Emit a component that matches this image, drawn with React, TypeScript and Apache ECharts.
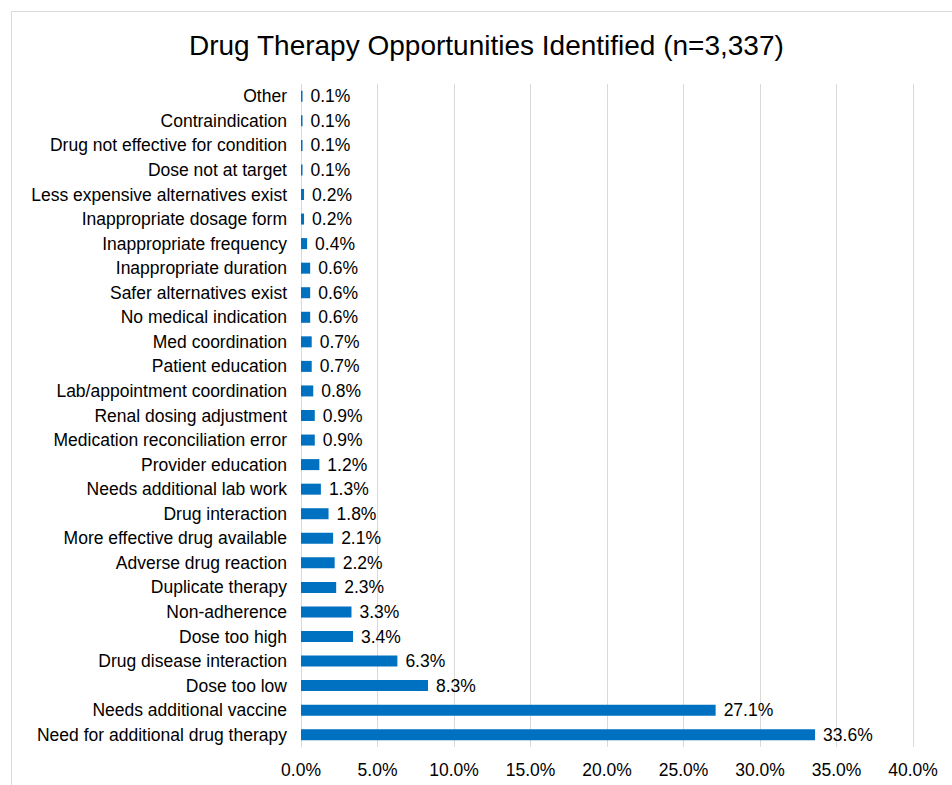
import React, { useEffect, useRef } from "react";
import * as echarts from "echarts";

const categories = [
  "Other",
  "Contraindication",
  "Drug not effective for condition",
  "Dose not at target",
  "Less expensive alternatives exist",
  "Inappropriate dosage form",
  "Inappropriate frequency",
  "Inappropriate duration",
  "Safer alternatives exist",
  "No medical indication",
  "Med coordination",
  "Patient education",
  "Lab/appointment coordination",
  "Renal dosing adjustment",
  "Medication reconciliation error",
  "Provider education",
  "Needs additional lab work",
  "Drug interaction",
  "More effective drug available",
  "Adverse drug reaction",
  "Duplicate therapy",
  "Non-adherence",
  "Dose too high",
  "Drug disease interaction",
  "Dose too low",
  "Needs additional vaccine",
  "Need for additional drug therapy",
];

const values = [
  0.1, 0.1, 0.1, 0.1, 0.2, 0.2, 0.4, 0.6, 0.6, 0.6, 0.7, 0.7, 0.8, 0.9, 0.9,
  1.2, 1.3, 1.8, 2.1, 2.2, 2.3, 3.3, 3.4, 6.3, 8.3, 27.1, 33.6,
];

const titleText = "Drug Therapy Opportunities Identified (n=3,337)";
const axisMax = 40;
const axisStep = 5;

export default function App() {
  const ref = useRef<HTMLDivElement>(null);
  useEffect(() => {
    if (!ref.current) return;
    const chart = echarts.init(ref.current, null, { renderer: "svg" });
    const font = "'Liberation Sans', Arial, sans-serif";
    const fs = 17.5;
    chart.setOption({
      animation: false,
      backgroundColor: "#fff",
      textStyle: { fontFamily: font },
      title: {
        text: titleText,
        left: 184,
        top: 26,
        textStyle: {
          fontFamily: font,
          fontSize: 28,
          fontWeight: "normal",
          color: "#000",
        },
      },
      graphic: [
        {
          type: "rect",
          shape: { x: 11.5, y: 11.5, width: 1000, height: 1000 },
          style: { fill: "none", stroke: "#d9d9d9", lineWidth: 1 },
          silent: true,
          z: -1,
        },
      ],
      grid: { left: 301, right: 39, top: 84, bottom: 38, containLabel: false },
      xAxis: {
        type: "value",
        min: 0,
        max: axisMax,
        interval: axisStep,
        axisLine: { show: false },
        axisTick: { show: false },
        splitLine: { show: true, lineStyle: { color: "#d9d9d9", width: 1 } },
        axisLabel: {
          color: "#000",
          fontSize: fs,
          fontFamily: font,
          margin: 14,
          formatter: (v: number) => v.toFixed(1) + "%",
        },
      },
      yAxis: {
        type: "category",
        data: categories,
        inverse: true,
        axisLine: { show: true, lineStyle: { color: "#d9d9d9", width: 1 } },
        axisTick: { show: false },
        axisLabel: {
          color: "#000",
          fontSize: fs,
          fontFamily: font,
          margin: 14,
        },
      },
      series: [
        {
          type: "bar",
          data: values,
          barWidth: 11,
          itemStyle: { color: "#0070C0" },
          label: {
            show: true,
            position: "right",
            distance: 8,
            color: "#000",
            fontSize: fs,
            fontFamily: font,
            formatter: (p: any) => Number(p.value).toFixed(1) + "%",
          },
        },
      ],
    });
    return () => chart.dispose();
  }, []);
  return (
    <div
      ref={ref}
      style={{ position: "fixed", left: 0, top: 0, width: 952, height: 785 }}
    />
  );
}
